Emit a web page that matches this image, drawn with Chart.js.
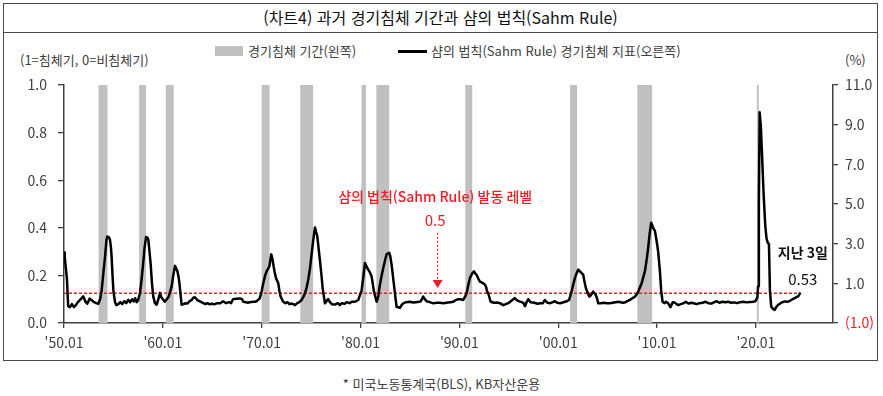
<!DOCTYPE html>
<html lang="ko">
<head>
<meta charset="utf-8">
<script src="https://cdn.jsdelivr.net/npm/chart.js@4.4.1/dist/chart.umd.min.js"></script>
<style>
  body { margin: 0; background: #fff; font-family: "Noto Sans CJK KR", "Noto Sans", sans-serif; }
  #wrap { position: relative; width: 883px; height: 396px; overflow: hidden; }
  #frame { position: absolute; left: 3px; top: 3px; width: 875px; height: 358px; border: 1.5px solid #4a4a4a; box-sizing: border-box; }
  #title { position: absolute; left: 3px; top: 3px; width: 875px; height: 30px; border-bottom: 1.5px solid #4a4a4a; box-sizing: border-box;
           text-align: center; font-size: 16px; line-height: 28px; color: #111; }
  .lbl { position: absolute; font-size: 13px; color: #404040; white-space: nowrap; line-height: 16px; }
  .swatch { position: absolute; }
  #foot { position: absolute; left: 0; width: 883px; top: 374px; text-align: center; font-size: 13px; color: #404040; }
  canvas { position: absolute; left: 0; top: 0; }
</style>
</head>
<body>
<div id="wrap">
  <div id="frame"></div>
  <div id="title">(차트4) 과거 경기침체 기간과 샴의 법칙(Sahm Rule)</div>
  <div class="swatch" style="left:215px;top:46px;width:28px;height:10px;background:#c0c0c0"></div>
  <div class="lbl" style="left:248px;top:43px">경기침체 기간(왼쪽)</div>
  <div class="swatch" style="left:398px;top:50px;width:29px;height:3px;background:#000"></div>
  <div class="lbl" style="left:431px;top:43px">샴의 법칙(Sahm Rule) 경기침체 지표(오른쪽)</div>
  <div class="lbl" style="left:20px;top:52px">(1=침체기, 0=비침체기)</div>
  <div class="lbl" style="left:845px;top:52px">(%)</div>
  <div id="foot">* 미국노동통계국(BLS), KB자산운용</div>
  <canvas id="sahmChart" width="883" height="396"></canvas>
</div>
<script>
// NBER recessions (start / end, decimal years)
const recessionStarts = [1953.5, 1957.6, 1960.3, 1970.0, 1973.9, 1980.1, 1981.6, 1990.6, 2001.2, 2008.0, 2020.1];
const recessionEnds   = [1954.4, 1958.3, 1961.1, 1970.8, 1975.2, 1980.55, 1982.9, 1991.3, 2001.9, 2009.5, 2020.3];

// Sahm rule indicator (%)
const sahmDates = [
  1950.00, 1950.08, 1950.20, 1950.30, 1950.42, 1950.60, 1950.80, 1951.00, 1951.20, 1951.40, 1951.60, 1951.95,
  1952.20, 1952.35, 1952.60, 1952.80, 1953.00, 1953.25, 1953.47, 1953.65, 1953.80, 1954.00, 1954.15, 1954.30,
  1954.38, 1954.55, 1954.65, 1954.75, 1954.82, 1954.92, 1955.00, 1955.16, 1955.30, 1955.50, 1955.70, 1955.90,
  1956.10, 1956.30, 1956.50, 1956.70, 1956.90, 1957.05, 1957.20, 1957.35, 1957.50, 1957.69, 1957.85, 1958.00,
  1958.15, 1958.30, 1958.45, 1958.53, 1958.65, 1958.77, 1958.90, 1959.03, 1959.20, 1959.37, 1959.55, 1959.71,
  1959.85, 1960.00, 1960.20, 1960.40, 1960.60, 1960.89, 1961.05, 1961.23, 1961.35, 1961.46, 1961.60, 1961.70,
  1961.90, 1962.10, 1962.30, 1962.50, 1962.70, 1962.90, 1963.08, 1963.25, 1963.50, 1963.70, 1963.90, 1964.10,
  1964.30, 1964.50, 1964.70, 1964.94, 1965.20, 1965.50, 1965.80, 1966.10, 1966.40, 1966.70, 1966.90, 1967.10,
  1967.40, 1967.80, 1968.00, 1968.14, 1968.40, 1968.60, 1968.80, 1969.10, 1969.30, 1969.50, 1969.80, 1970.00,
  1970.16, 1970.35, 1970.50, 1970.77, 1970.97, 1971.10, 1971.18, 1971.30, 1971.45, 1971.68, 1971.80, 1971.92,
  1972.18, 1972.40, 1972.60, 1972.80, 1973.00, 1973.20, 1973.37, 1973.60, 1973.80, 1974.04, 1974.20, 1974.38,
  1974.55, 1974.71, 1974.90, 1975.05, 1975.22, 1975.39, 1975.50, 1975.62, 1975.75, 1975.90, 1976.05, 1976.17,
  1976.40, 1976.55, 1976.73, 1976.90, 1977.10, 1977.40, 1977.70, 1977.90, 1978.10, 1978.40, 1978.60, 1978.90,
  1979.10, 1979.44, 1979.77, 1979.94, 1980.10, 1980.30, 1980.45, 1980.60, 1980.78, 1980.95, 1981.12, 1981.36,
  1981.63, 1981.78, 1981.90, 1982.10, 1982.30, 1982.50, 1982.64, 1982.90, 1983.00, 1983.14, 1983.38, 1983.55,
  1983.65, 1983.99, 1984.15, 1984.32, 1984.60, 1985.00, 1985.30, 1985.60, 1985.90, 1986.10, 1986.34, 1986.50,
  1986.68, 1987.00, 1987.36, 1987.70, 1988.00, 1988.40, 1988.80, 1989.10, 1989.38, 1989.60, 1989.88, 1990.10,
  1990.39, 1990.55, 1990.73, 1990.90, 1991.06, 1991.30, 1991.47, 1991.60, 1991.74, 1991.90, 1992.08, 1992.25,
  1992.41, 1992.55, 1992.69, 1992.80, 1992.92, 1993.16, 1993.50, 1993.80, 1994.10, 1994.44, 1994.70, 1995.00,
  1995.20, 1995.45, 1995.62, 1995.80, 1996.00, 1996.30, 1996.50, 1996.63, 1996.80, 1996.97, 1997.20, 1997.60,
  1997.90, 1998.20, 1998.45, 1998.65, 1998.90, 1999.20, 1999.45, 1999.67, 1999.90, 2000.20, 2000.45, 2000.68,
  2000.90, 2001.10, 2001.35, 2001.50, 2001.69, 2001.85, 2002.03, 2002.15, 2002.27, 2002.40, 2002.53, 2002.65,
  2002.80, 2003.00, 2003.14, 2003.30, 2003.54, 2003.65, 2003.81, 2003.95, 2004.05, 2004.30, 2004.60, 2004.90,
  2005.20, 2005.50, 2005.80, 2006.10, 2006.30, 2006.58, 2006.80, 2007.00, 2007.25, 2007.50, 2007.76, 2007.95,
  2008.10, 2008.27, 2008.44, 2008.60, 2008.77, 2008.95, 2009.10, 2009.25, 2009.40, 2009.50, 2009.60, 2009.78,
  2009.90, 2010.01, 2010.12, 2010.29, 2010.42, 2010.56, 2010.75, 2010.90, 2011.13, 2011.35, 2011.60, 2011.80,
  2012.14, 2012.40, 2012.70, 2012.90, 2013.20, 2013.50, 2013.80, 2014.00, 2014.30, 2014.60, 2014.90, 2015.20,
  2015.50, 2015.80, 2016.02, 2016.30, 2016.60, 2016.90, 2017.20, 2017.50, 2017.80, 2018.10, 2018.40, 2018.70,
  2019.06, 2019.40, 2019.72, 2019.95, 2020.15, 2020.22, 2020.30, 2020.38, 2020.50, 2020.62, 2020.78, 2020.95,
  2021.08, 2021.20, 2021.32, 2021.42, 2021.55, 2021.75, 2021.90, 2022.05, 2022.26, 2022.50, 2022.70, 2022.93,
  2023.20, 2023.44, 2023.70, 2023.94, 2024.10, 2024.28, 2024.40, 2024.50
];
const sahmValues = [
  2.56, 2.30, 1.70, 1.20, -0.15, -0.20, -0.05, -0.20, -0.10, 0.05, 0.15, 0.34,
  0.05, -0.03, 0.23, 0.15, 0.06, 0.00, -0.03, 0.20, 0.60, 1.60, 2.32, 3.20,
  3.36, 3.32, 3.20, 2.80, 2.32, 1.30, 0.60, 0.06, -0.10, -0.05, 0.05, -0.05,
  0.10, 0.00, 0.17, 0.05, 0.20, 0.09, 0.25, 0.05, 0.15, 0.52, 1.20, 1.96,
  2.80, 3.33, 3.30, 3.20, 2.60, 1.96, 1.00, 0.34, 0.00, -0.08, 0.20, 0.52,
  0.30, 0.20, 0.08, 0.20, 0.34, 0.85, 1.40, 1.88, 1.75, 1.63, 1.30, 0.90,
  -0.08, -0.05, 0.00, -0.02, 0.10, 0.15, 0.28, 0.30, 0.15, 0.10, 0.05, 0.00,
  -0.05, 0.00, -0.05, -0.03, -0.06, 0.00, 0.00, 0.10, 0.00, 0.05, 0.00, 0.20,
  0.22, 0.24, 0.20, 0.07, 0.05, 0.02, 0.05, 0.07, 0.07, 0.10, 0.24, 0.60,
  1.00, 1.40, 1.60, 1.85, 2.46, 2.20, 1.94, 1.60, 1.26, 1.00, 0.60, 0.33,
  0.07, 0.00, 0.05, -0.05, -0.02, -0.05, -0.10, 0.00, 0.05, 0.16, 0.30, 0.50,
  0.80, 1.18, 1.80, 2.46, 3.20, 3.82, 3.60, 3.39, 2.80, 2.12, 1.40, 0.75,
  -0.01, 0.10, 0.20, 0.05, -0.05, -0.07, 0.00, -0.10, 0.00, -0.03, 0.05, 0.00,
  0.07, 0.07, 0.16, 0.41, 0.60, 1.40, 2.03, 1.85, 1.69, 1.55, 1.35, 0.58,
  0.07, 0.30, 0.75, 1.30, 1.77, 2.20, 2.46, 2.54, 2.40, 1.95, 0.93, 0.20,
  -0.18, -0.24, -0.10, -0.01, 0.05, 0.07, 0.03, 0.05, 0.07, 0.10, 0.33, 0.20,
  0.10, 0.05, -0.01, 0.02, 0.02, 0.00, 0.03, 0.05, 0.07, 0.15, 0.20, 0.20,
  0.16, 0.30, 0.50, 0.90, 1.26, 1.50, 1.60, 1.50, 1.43, 1.25, 1.09, 1.05,
  1.00, 0.95, 0.84, 0.60, 0.50, 0.07, 0.02, 0.03, 0.00, -0.10, -0.05, 0.02,
  0.10, 0.20, 0.26, 0.15, 0.10, 0.05, 0.00, -0.15, 0.05, 0.20, 0.05, 0.02,
  -0.03, 0.00, 0.00, 0.16, 0.02, 0.00, 0.05, 0.10, 0.02, 0.00, 0.03, 0.07,
  0.10, 0.16, 0.58, 0.90, 1.26, 1.50, 1.69, 1.62, 1.57, 1.50, 1.43, 1.10,
  0.75, 0.50, 0.33, 0.40, 0.58, 0.50, 0.41, 0.20, -0.01, 0.00, 0.02, 0.00,
  -0.01, 0.02, 0.05, 0.07, 0.05, 0.02, 0.05, 0.10, 0.16, 0.25, 0.33, 0.45,
  0.58, 0.80, 1.00, 1.30, 1.60, 2.20, 2.79, 3.50, 4.06, 3.95, 3.80, 3.65,
  3.30, 2.97, 2.56, 1.60, 0.60, 0.07, 0.00, 0.07, -0.01, -0.20, 0.05, 0.02,
  -0.10, -0.05, 0.00, 0.07, -0.02, 0.02, -0.02, -0.05, 0.00, 0.02, 0.07, 0.00,
  -0.02, 0.05, 0.10, 0.02, 0.07, 0.05, 0.07, 0.02, 0.04, 0.00, 0.05, 0.07,
  0.04, 0.06, 0.07, 0.10, 0.30, 0.85, 5.00, 9.62, 8.90, 7.50, 5.50, 3.90,
  3.24, 3.05, 2.98, 0.60, -0.17, -0.30, -0.34, -0.20, -0.08, 0.00, 0.05, 0.09,
  0.07, 0.12, 0.20, 0.26, 0.30, 0.34, 0.45, 0.53
];

const sahmTrigger = 0.5;
const tickYears = [1950, 1960, 1970, 1980, 1990, 2000, 2010, 2020];
const leftTicks = [0, 0.2, 0.4, 0.6, 0.8, 1.0];
const rightTicks = [-1, 1, 3, 5, 7, 9, 11];

const RED = '#ee1c25';
const AXIS = '#404040';
const TICK_TXT = '#404040';
const FONT = '"Noto Sans CJK KR", "Noto Sans", sans-serif';

// recession shading: a filled step outline on the left axis
const recessionPoints = [{ x: 1950, y: 0 }];
recessionStarts.forEach((s, i) => {
  recessionPoints.push({ x: s, y: 0 }, { x: s, y: 1 }, { x: recessionEnds[i], y: 1 }, { x: recessionEnds[i], y: 0 });
});

const sahmPoints = sahmDates.map((d, i) => ({ x: d, y: sahmValues[i] }));
const triggerPoints = [
  { x: sahmDates[0], y: sahmTrigger },
  { x: sahmDates[sahmDates.length - 1], y: sahmTrigger }
];

// text notes and arrow, placed in data units
const notes = [
  { text: '샴의 법칙(Sahm Rule) 발동 레벨', x: 1987.55, y: 5.35, color: RED, font: '500 14px ' + FONT },
  { text: '0.5', x: 1987.55, y: 4.2, color: RED, font: '15px ' + FONT },
  { text: '지난 3일', x: 2024.75, y: 2.55, color: '#111', font: 'bold 14px ' + FONT },
  { text: '0.53', x: 2024.75, y: 1.18, color: '#111', font: '15px ' + FONT }
];
const arrow = { x: 1987.8, yFrom: 3.55, yTo: 0.76 };

const notesPlugin = {
  id: 'notes',
  afterDatasetsDraw(chart) {
    const { ctx } = chart;
    const xs = chart.scales.x, ys = chart.scales.y2;
    ctx.save();
    ctx.textAlign = 'center';
    ctx.textBaseline = 'middle';
    notes.forEach(n => {
      ctx.font = n.font;
      ctx.fillStyle = n.color;
      ctx.fillText(n.text, xs.getPixelForValue(n.x), ys.getPixelForValue(n.y));
    });
    const ax = xs.getPixelForValue(arrow.x);
    const y0 = ys.getPixelForValue(arrow.yFrom);
    const y1 = ys.getPixelForValue(arrow.yTo);
    ctx.strokeStyle = RED;
    ctx.lineWidth = 1.2;
    ctx.setLineDash([2, 2]);
    ctx.beginPath();
    ctx.moveTo(ax, y0);
    ctx.lineTo(ax, y1 - 7);
    ctx.stroke();
    ctx.setLineDash([]);
    ctx.fillStyle = RED;
    ctx.beginPath();
    ctx.moveTo(ax - 5, y1 - 8);
    ctx.lineTo(ax + 5, y1 - 8);
    ctx.lineTo(ax, y1);
    ctx.closePath();
    ctx.fill();
    ctx.restore();
  }
};

const ctx = document.getElementById('sahmChart').getContext('2d');
new Chart(ctx, {
  type: 'line',
  data: {
    datasets: [
      {
        label: '샴의 법칙(Sahm Rule) 경기침체 지표(오른쪽)',
        data: sahmPoints,
        yAxisID: 'y2',
        borderColor: '#000',
        borderWidth: 2.5,
        borderJoinStyle: 'round',
        pointRadius: 0,
        fill: false,
        order: 0
      },
      {
        label: 'trigger',
        data: triggerPoints,
        yAxisID: 'y2',
        borderColor: RED,
        borderWidth: 1.3,
        borderDash: [3, 2],
        pointRadius: 0,
        fill: false,
        order: 1
      },
      {
        label: '경기침체 기간(왼쪽)',
        data: recessionPoints,
        yAxisID: 'y',
        borderWidth: 0,
        borderColor: 'rgba(0,0,0,0)',
        backgroundColor: '#c0c0c0',
        pointRadius: 0,
        fill: 'origin',
        order: 2
      }
    ]
  },
  options: {
    responsive: false,
    animation: false,
    events: [],
    layout: { padding: { top: 85, left: 0, right: 0, bottom: 0 } },
    plugins: {
      legend: { display: false },
      tooltip: { enabled: false }
    },
    scales: {
      x: {
        type: 'linear',
        min: 1950,
        max: 2027.8,
        afterBuildTicks: s => { s.ticks = tickYears.map(v => ({ value: v })); },
        afterFit: s => { s.height = 73; },
        grid: { drawOnChartArea: false, drawTicks: true, tickLength: 5, color: AXIS, lineWidth: 1.3 },
        border: { display: true, color: AXIS, width: 1.5 },
        ticks: {
          color: TICK_TXT,
          font: { family: FONT, size: 14 },
          padding: 6,
          maxRotation: 0,
          autoSkip: false,
          callback: v => "'" + String(v).slice(2) + '.01'
        }
      },
      y: {
        position: 'left',
        min: 0,
        max: 1,
        afterBuildTicks: s => { s.ticks = leftTicks.map(v => ({ value: v })); },
        afterFit: s => { s.width = 64; },
        grid: { drawOnChartArea: false, drawTicks: true, tickLength: 6, color: AXIS, lineWidth: 1.3 },
        border: { display: true, color: AXIS, width: 1.5 },
        ticks: {
          color: TICK_TXT,
          font: { family: FONT, size: 14 },
          padding: 11,
          callback: v => v.toFixed(1)
        }
      },
      y2: {
        position: 'right',
        min: -1,
        max: 11,
        afterBuildTicks: s => { s.ticks = rightTicks.map(v => ({ value: v })); },
        afterFit: s => { s.width = 50; },
        grid: { drawOnChartArea: false, drawTicks: true, tickLength: 5, color: AXIS, lineWidth: 1.3 },
        border: { display: true, color: AXIS, width: 1.5 },
        ticks: {
          color: c => (c.tick && c.tick.value < 0 ? RED : TICK_TXT),
          font: { family: FONT, size: 14 },
          padding: 7,
          callback: v => (v < 0 ? '(' + Math.abs(v).toFixed(1) + ')' : v.toFixed(1))
        }
      }
    }
  },
  plugins: [notesPlugin]
});
</script>
</body>
</html>
